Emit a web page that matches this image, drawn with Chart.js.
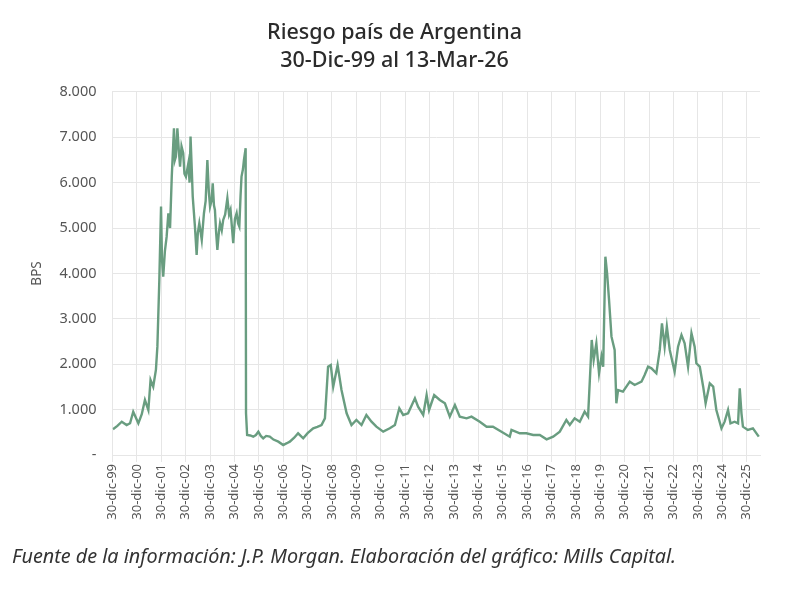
<!DOCTYPE html>
<html>
<head>
<meta charset="utf-8">
<script src="https://cdn.jsdelivr.net/npm/chart.js@4.4.1/dist/chart.umd.min.js"></script>
<style>
  html, body { margin: 0; padding: 0; background: #fff; }
  #wrap { position: relative; width: 800px; height: 599px; }
  #fuente {
    position: absolute; left: 12px; top: 542px;
    font: italic 19.8px "Noto Sans", sans-serif; color: #333;
    white-space: nowrap;
  }
</style>
</head>
<body>
<div id="wrap">
  <canvas id="grafico" width="800" height="599"></canvas>
  <div id="fuente">Fuente de la información: J.P. Morgan. Elaboración del gráfico: Mills Capital.</div>
</div>
<script>
// posición en el eje (0 = 30-dic-99, 1 = 30-dic-00, ...), valor en puntos básicos
const posicion = [
  0.02, 0.2, 0.38, 0.58, 0.72, 0.85, 1.06, 1.2, 1.33, 1.47, 1.56, 1.67, 1.78, 1.84, 1.92, 1.99,
  2.03, 2.08, 2.15, 2.22, 2.29, 2.36, 2.43, 2.52, 2.56, 2.6, 2.66, 2.72, 2.77, 2.83, 2.9, 2.95,
  3.01, 3.11, 3.16, 3.2, 3.25, 3.29, 3.33, 3.38, 3.45, 3.5, 3.56, 3.66, 3.75, 3.82, 3.89, 3.95,
  4.0, 4.06, 4.11, 4.16, 4.2, 4.25, 4.3, 4.36, 4.41, 4.48, 4.54, 4.62, 4.71, 4.78, 4.84, 4.9,
  4.95, 5.02, 5.09, 5.15, 5.2, 5.25, 5.29, 5.35, 5.39, 5.46, 5.475, 5.52, 5.65, 5.77, 5.88, 5.98,
  6.08, 6.18, 6.3, 6.45, 6.6, 6.8, 7.0, 7.15, 7.27, 7.45, 7.61, 7.82, 8.0, 8.23, 8.4, 8.57,
  8.71, 8.84, 8.95, 9.05, 9.23, 9.39, 9.6, 9.8, 10.0, 10.21, 10.41, 10.62, 10.82, 11.1, 11.37, 11.58,
  11.76, 11.92, 12.12, 12.4, 12.53, 12.74, 12.88, 12.98, 13.19, 13.42, 13.63, 13.83, 14.04, 14.24, 14.52, 14.72,
  15.06, 15.34, 15.6, 15.95, 16.29, 16.36, 16.7, 16.97, 17.25, 17.52, 17.8, 18.07, 18.34, 18.61, 18.75, 18.95,
  19.16, 19.36, 19.5, 19.6, 19.65, 19.73, 19.84, 19.95, 20.05, 20.12, 20.21, 20.28, 20.36, 20.46, 20.59, 20.66,
  20.73, 20.93, 21.21, 21.41, 21.69, 21.82, 21.96, 22.1, 22.3, 22.44, 22.53, 22.64, 22.73, 22.85, 23.05, 23.19,
  23.33, 23.46, 23.6, 23.74, 23.87, 23.94, 24.08, 24.22, 24.32, 24.49, 24.63, 24.76, 24.97, 25.1, 25.24, 25.34,
  25.51, 25.65, 25.72, 25.79, 25.85, 26.05, 26.26, 26.5
];
const bps = [
  566, 640, 734, 661, 700, 954, 698, 900, 1212, 992, 1653, 1505, 1873, 2387, 3857, 5472,
  4298, 3930, 4500, 4811, 5327, 5000, 6134, 7200, 6500, 6574, 7200, 6700, 6354, 6800, 6649, 6200,
  6134, 6428, 6000, 7015, 6300, 5693, 5400, 5032, 4408, 4900, 5106, 4738, 5327, 5600, 6501, 5800,
  5472, 5600, 5988, 5500, 5400, 4900, 4518, 4900, 5106, 4950, 5179, 5300, 5657, 5300, 5400, 5000,
  4665, 5200, 5327, 5100, 5032, 5700, 6134, 6300, 6501, 6760, 919, 441, 430, 404, 440, 514,
  420, 367, 420, 404, 340, 294, 220, 260, 294, 380, 478, 367, 480, 588, 620, 661,
  808, 1946, 1983, 1505, 1983, 1432, 919, 661, 771, 661, 882, 734, 624, 514, 588, 661,
  1029, 882, 919, 1249, 1065, 882, 1322, 992, 1322, 1212, 1139, 845, 1102, 845, 808, 845,
  734, 624, 624, 514, 404, 551, 478, 478, 441, 441, 345, 404, 514, 771, 661, 808,
  734, 955, 845, 1946, 2534, 2094, 2460, 1800, 2167, 1946, 4370, 4004, 3416, 2607, 2314, 1139,
  1432, 1395, 1616, 1543, 1616, 1763, 1946, 1909, 1800, 2314, 2902, 2387, 2828, 2314, 1836, 2387,
  2645, 2460, 1946, 2682, 2387, 2020, 1946, 1505, 1139, 1579, 1505, 992, 588, 734, 992, 698,
  734, 698, 1469, 919, 624, 551, 588, 404
];
const etiquetasX = [
  "30-dic-99", "30-dic-00", "30-dic-01", "30-dic-02", "30-dic-03", "30-dic-04", "30-dic-05",
  "30-dic-06", "30-dic-07", "30-dic-08", "30-dic-09", "30-dic-10", "30-dic-11", "30-dic-12",
  "30-dic-13", "30-dic-14", "30-dic-15", "30-dic-16", "30-dic-17", "30-dic-18", "30-dic-19",
  "30-dic-20", "30-dic-21", "30-dic-22", "30-dic-23", "30-dic-24", "30-dic-25"
];
const ticksY = [0, 1000, 2000, 3000, 4000, 5000, 6000, 7000, 8000];

const puntos = posicion.map((x, i) => ({ x: x, y: bps[i] }));
const gris = "#e6e6e6";

new Chart(document.getElementById("grafico"), {
  type: "line",
  data: {
    datasets: [{
      label: "Riesgo país",
      data: puntos,
      borderColor: "#699d80",
      borderWidth: 2.4,
      pointRadius: 0,
      tension: 0
    }]
  },
  options: {
    responsive: false,
    animation: false,
    layout: { padding: { left: 29, right: 40, top: 0, bottom: 0 } },
    plugins: {
      legend: { display: false },
      tooltip: { enabled: false },
      title: {
        display: true,
        text: ["Riesgo país de Argentina", "30-Dic-99 al 13-Mar-26"],
        color: "#2b2b2b",
        font: { family: "Noto Sans", size: 21.5, weight: "500", lineHeight: 1.3 },
        padding: { top: 19, bottom: 17 }
      }
    },
    scales: {
      x: {
        type: "linear",
        min: 0,
        max: 26.55,
        grid: { color: gris, tickLength: 7 },
        border: { color: gris },
        afterBuildTicks: s => { s.ticks = etiquetasX.map((_, i) => ({ value: i })); },
        afterFit: s => { s.height = 144; },
        ticks: {
          autoSkip: false,
          minRotation: 90,
          maxRotation: 90,
          color: "#555",
          padding: 2,
          font: { family: "Noto Sans", size: 13 },
          callback: v => etiquetasX[v]
        }
      },
      y: {
        min: 0,
        max: 8000,
        grid: { color: gris, drawTicks: false, tickLength: 0 },
        border: { color: gris },
        afterBuildTicks: s => { s.ticks = ticksY.map(v => ({ value: v })); },
        afterFit: s => { s.width = 83.5; },
        title: {
          display: true,
          text: "BPS",
          color: "#555",
          font: { family: "Noto Sans", size: 13.5 },
          padding: { top: 0, bottom: 0 }
        },
        ticks: {
          color: "#555",
          padding: 16,
          font: { family: "Noto Sans", size: 14.5 },
          callback: v => v === 0 ? "-" : v.toLocaleString("de-DE")
        }
      }
    }
  }
});
</script>
</body>
</html>
